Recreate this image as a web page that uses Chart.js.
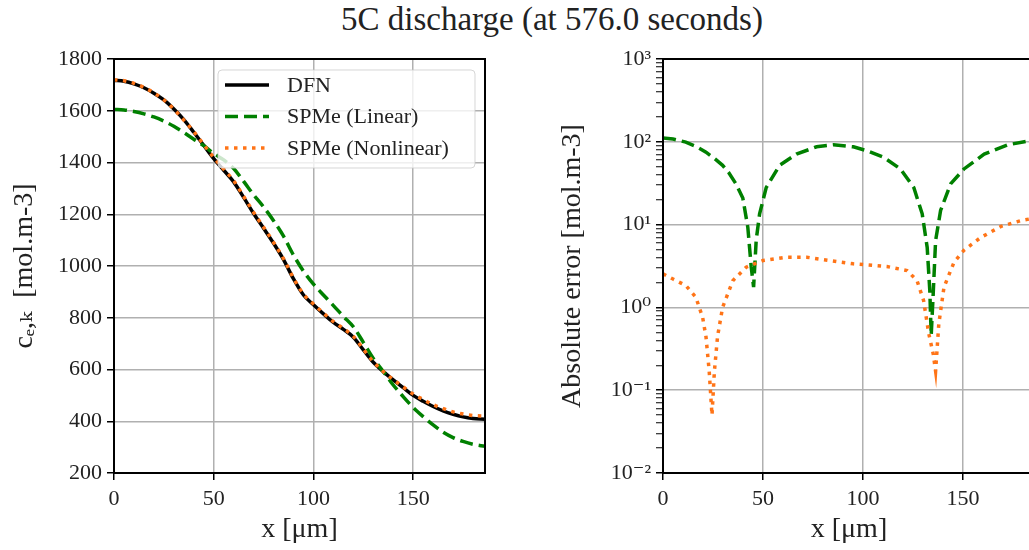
<!DOCTYPE html>
<html>
<head>
<meta charset="utf-8">
<script src="https://cdn.jsdelivr.net/npm/chart.js@4/dist/chart.umd.min.js"></script>
<style>
  html, body { margin: 0; padding: 0; background: #fff; }
  body { width: 1029px; height: 550px; overflow: hidden; position: relative; }
  #title { position: absolute; left: 0; top: 1px; width: 1104px; text-align: center;
           font-family: "Liberation Serif", serif; font-size: 33px; color: #222; }
  .box { position: absolute; top: 40px; width: 500px; height: 510px; }
</style>
</head>
<body>
<div id="title">5C discharge (at 576.0 seconds)</div>
<div class="box" style="left:0"><canvas id="left"></canvas></div>
<div class="box" style="left:550px"><canvas id="right"></canvas></div>
<script>
// left panel: concentration vs x
const xGrid = [0, 5, 10, 15, 20, 25, 30, 35, 40, 45, 50, 55, 60, 65, 70, 75, 80, 85, 90, 95,
  100, 105, 110, 115, 120, 125, 130, 135, 140, 145, 150, 155, 160, 165, 170, 175, 180, 186];
const dfn = [1718, 1714, 1704, 1689, 1668, 1642, 1607, 1566, 1517, 1466, 1415, 1370, 1325, 1265, 1203, 1146, 1088, 1025, 950, 888,
  850, 815, 782, 755, 725, 676, 628, 592, 560, 530, 500, 477, 457, 440, 427, 417, 411, 408];
const spmeNonlinear = [1720, 1716, 1706, 1690, 1669, 1642, 1606, 1564, 1519, 1469, 1419, 1374, 1329, 1269, 1207, 1150, 1091, 1028, 953, 891,
  853, 818, 785, 758, 728, 679, 630, 592, 561, 533, 505, 484, 464, 449, 436, 428, 422, 420];
const spmeLinear = [1605, 1603, 1597, 1588, 1576, 1560, 1540, 1516, 1490, 1465, 1435, 1410, 1377, 1327, 1275, 1228, 1175, 1115, 1042, 980,
  930, 888, 847, 805, 765, 705, 643, 592, 540, 495, 453, 418, 386, 358, 337, 322, 311, 303];

// right panel: absolute error (log scale)
const errLinX = [0, 5, 11.4, 16, 21.5, 26, 29.8, 33, 36.5, 39.9, 42.4, 44.1, 45.3, 46.6, 48.3, 51.6, 58.3, 66.7, 76.8, 85.2, 95.2,
  101.9, 110.3, 118.7, 125.4, 129.6, 132.1, 133.4, 134.1, 135.1, 136.3, 138.8, 143.8, 150.5, 160.6, 172.3, 183.5, 186];
const errLin = [111, 108, 99, 89, 75, 62, 52, 42, 31, 21, 9.3, 3.1, 1.76, 6.5, 13.5, 28, 52, 71, 87, 92, 87,
  78, 65, 47, 28, 13.5, 5.3, 1.6, 0.46, 1.46, 6.4, 14.8, 31, 47, 71, 92, 103, 105];
const errNonX = [0, 5, 11.4, 16.4, 19.8, 21.5, 23.1, 24.5, 25.7, 27.3, 29.8, 34.9, 41.6, 50, 61.7, 71.8, 83.5, 95.2, 111.9, 122,
  127, 130.3, 132.9, 135.1, 136.3, 137.9, 140.5, 145.5, 150.5, 158.9, 169, 179, 186];
const errNon = [2.54, 2.2, 1.84, 1.33, 0.76, 0.44, 0.17, 0.05, 0.17, 0.45, 1.0, 2.1, 3.06, 3.68, 4.04, 4.04, 3.68, 3.36, 3.12, 2.79,
  2.11, 1.21, 0.48, 0.275, 0.17, 0.63, 1.76, 3.5, 4.9, 7.0, 9.5, 11.2, 12];

const xTicks = [0, 50, 100, 150];
const leftYTicks = [200, 400, 600, 800, 1000, 1200, 1400, 1600, 1800];
const logMajors = [0.01, 0.1, 1, 10, 100, 1000];
const logLabels = ['10\u207B\u00B2', '10\u207B\u00B9', '10\u2070', '10\u00B9', '10\u00B2', '10\u00B3'];

const FONT = '"Liberation Serif", "DejaVu Serif", serif';
const GREEN = '#008000';
const ORANGE = '#ff7417';
const GRID = '#b0b0b0';

function pts(xs, ys) { return xs.map((x, i) => ({ x, y: ys[i] })); }

const frame = {
  id: 'frame',
  afterDatasetsDraw(chart) {
    const a = chart.chartArea, c = chart.ctx;
    c.save();
    c.strokeStyle = '#000';
    c.lineWidth = 2;
    c.strokeRect(a.left, a.top, a.right - a.left, a.bottom - a.top);
    c.restore();
  }
};

const boxLegend = {
  id: 'boxLegend',
  afterDraw(chart) {
    const c = chart.ctx;
    const x0 = 218, y0 = 30, w = 257, h = 98;
    c.save();
    c.fillStyle = 'rgba(255,255,255,0.8)';
    c.strokeStyle = 'rgba(204,204,204,0.8)';
    c.lineWidth = 1;
    c.beginPath();
    c.roundRect(x0, y0, w, h, 4);
    c.fill();
    c.stroke();
    chart.data.datasets.forEach((ds, i) => {
      const y = y0 + 15 + i * 31.5;
      c.strokeStyle = ds.borderColor;
      c.lineWidth = ds.borderWidth;
      c.setLineDash(ds.borderDash || []);
      c.beginPath();
      c.moveTo(x0 + 7, y);
      c.lineTo(x0 + 51, y);
      c.stroke();
      c.setLineDash([]);
      c.fillStyle = '#222';
      c.font = '22px ' + FONT;
      c.textBaseline = 'middle';
      c.fillText(ds.label, x0 + 69, y + 1);
    });
    c.restore();
  }
};

function xScale() {
  return {
    type: 'linear', min: 0, max: 186,
    afterBuildTicks: s => { s.ticks = xTicks.map(v => ({ value: v })); },
    afterFit: s => { s.height = 77; },
    grid: { color: GRID, lineWidth: 1.5, tickColor: '#000', tickLength: 7, tickWidth: 1.5 },
    border: { color: '#000', width: 2 },
    ticks: { color: '#222', font: { family: FONT, size: 22 }, padding: 6, maxRotation: 0, callback: v => String(v) },
    title: { display: true, text: 'x [\u03BCm]', color: '#222', font: { family: FONT, size: 28 }, padding: { top: 0, bottom: 4 } }
  };
}

const lineBase = { pointRadius: 0, fill: false, cubicInterpolationMode: 'monotone', borderCapStyle: 'butt' };

new Chart(document.getElementById('left'), {
  type: 'line',
  data: {
    datasets: [
      { ...lineBase, label: 'DFN', data: pts(xGrid, dfn), borderColor: '#000', borderWidth: 3.5, order: 3 },
      { ...lineBase, label: 'SPMe (Linear)', data: pts(xGrid, spmeLinear), borderColor: GREEN, borderWidth: 3.5, borderDash: [13, 6], order: 2 },
      { ...lineBase, label: 'SPMe (Nonlinear)', data: pts(xGrid, spmeNonlinear), borderColor: ORANGE, borderWidth: 3.5, borderDash: [3.5, 5.5], order: 1 }
    ]
  },
  options: {
    responsive: true, maintainAspectRatio: false, animation: false,
    layout: { padding: { top: 19, right: 15, bottom: 0, left: 0 } },
    plugins: { legend: { display: false }, tooltip: { enabled: false } },
    scales: {
      x: xScale(),
      y: {
        type: 'linear', min: 200, max: 1800,
        afterBuildTicks: s => { s.ticks = leftYTicks.map(v => ({ value: v })); },
        afterFit: s => { s.width = 114; },
        grid: { color: GRID, lineWidth: 1.5, tickColor: '#000', tickLength: 7, tickWidth: 1.5 },
        border: { color: '#000', width: 2 },
        ticks: { color: '#222', font: { family: FONT, size: 22 }, padding: 5, callback: v => String(v) },
        title: { display: true, text: 'c\u2091,\u2096  [mol.m-3]', color: '#222', font: { family: FONT, size: 28 }, padding: { top: 8, bottom: 0 } }
      }
    }
  },
  plugins: [frame, boxLegend]
});

new Chart(document.getElementById('right'), {
  type: 'line',
  data: {
    datasets: [
      { ...lineBase, label: 'SPMe (Linear)', data: pts(errLinX, errLin), borderColor: GREEN, borderWidth: 3.5, borderDash: [13, 6], cubicInterpolationMode: 'default', tension: 0, order: 2 },
      { ...lineBase, label: 'SPMe (Nonlinear)', data: pts(errNonX, errNon), borderColor: ORANGE, borderWidth: 3.5, borderDash: [3.5, 5.5], cubicInterpolationMode: 'default', tension: 0, order: 1 }
    ]
  },
  options: {
    responsive: true, maintainAspectRatio: false, animation: false,
    layout: { padding: { top: 19, right: 15, bottom: 0, left: 0 } },
    plugins: { legend: { display: false }, tooltip: { enabled: false } },
    scales: {
      x: xScale(),
      y: {
        type: 'logarithmic', min: 0.01, max: 1000,
        afterBuildTicks: s => {
          const t = [];
          logMajors.forEach((m, i) => {
            t.push({ value: m, major: true });
            if (i < logMajors.length - 1) for (let k = 2; k <= 9; k++) t.push({ value: m * k, major: false });
          });
          s.ticks = t;
        },
        afterFit: s => { s.width = 113; },
        grid: {
          color: c => (c.tick && c.tick.major) ? GRID : 'rgba(0,0,0,0)',
          lineWidth: 1.5,
          tickColor: '#000',
          tickLength: 7,
          tickWidth: c => (c.tick && c.tick.major) ? 1.5 : 1
        },
        border: { color: '#000', width: 2 },
        ticks: {
          autoSkip: false, color: '#222', font: { family: FONT, size: 22 }, padding: 5,
          callback: function (v) {
            const i = logMajors.findIndex(m => Math.abs(m - v) / m < 1e-6);
            return i >= 0 ? logLabels[i] : '';
          }
        },
        title: { display: true, text: 'Absolute error [mol.m-3]', color: '#222', font: { family: FONT, size: 28 }, padding: { top: 6, bottom: 0 } }
      }
    }
  },
  plugins: [frame]
});
</script>
</body>
</html>
